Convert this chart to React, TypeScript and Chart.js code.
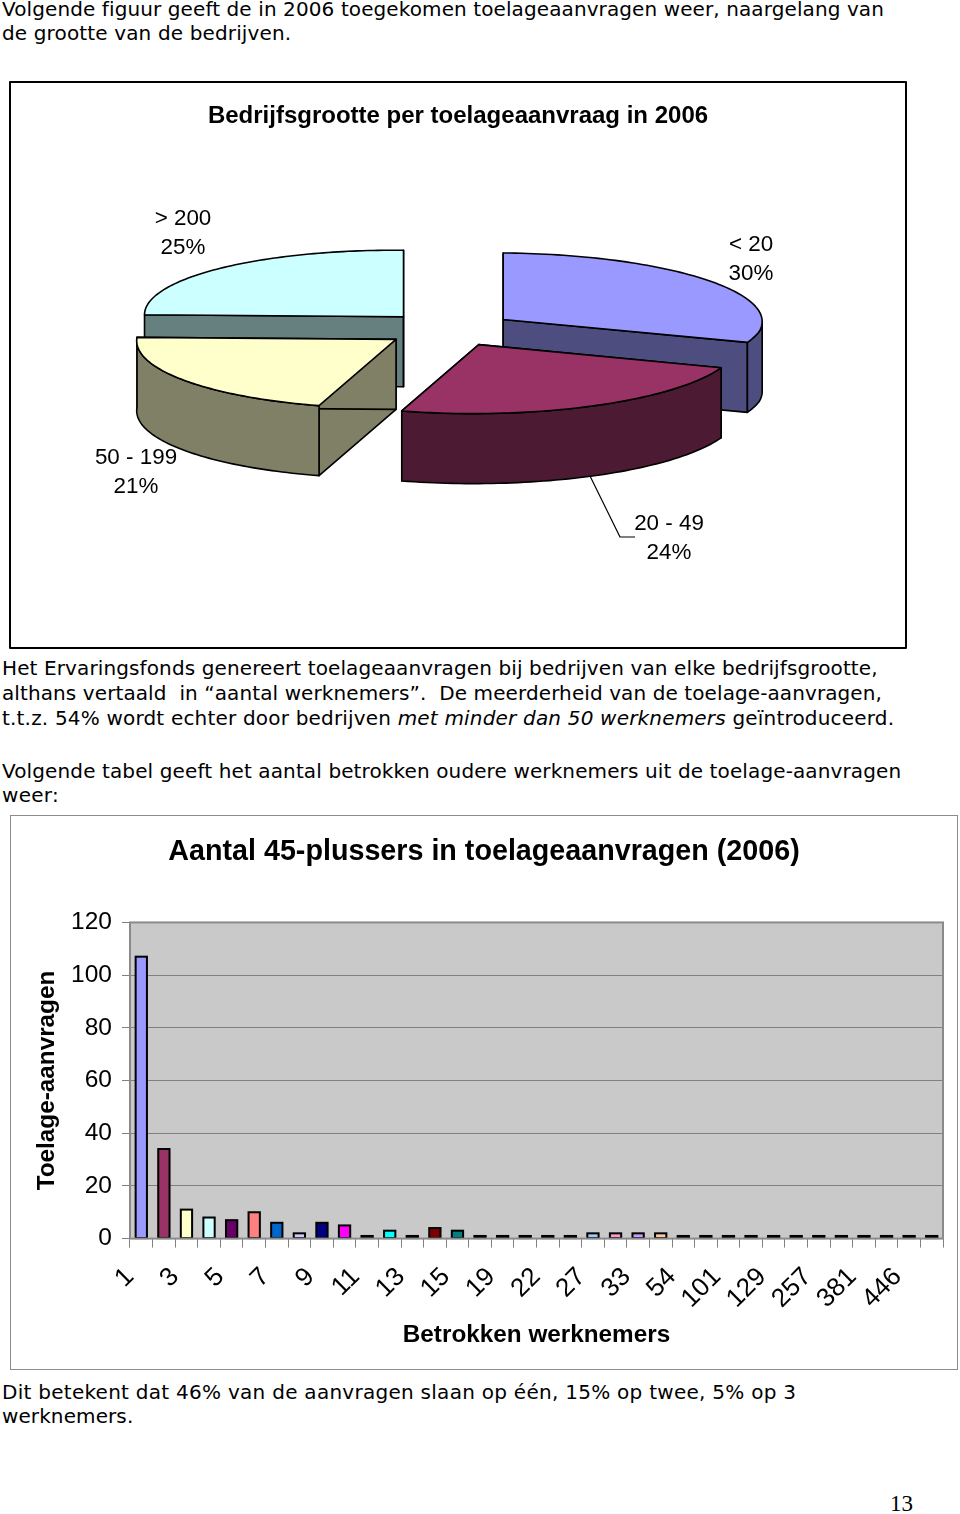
import React, { useEffect, useRef } from "react";
import { Chart, registerables } from "chart.js";

Chart.register(...registerables);

// ---- pie data ----
const pieLabels = ["< 20", "20 - 49", "50 - 199", "> 200"];
const pieValues = [30, 24, 21, 25];
const pieColors = ["#9999FF", "#993366", "#FFFFCC", "#CCFFFF"];
const pieWallColors = ["#4D4D80", "#4D1A33", "#808066", "#668080"];
const pieTitle = "Bedrijfsgrootte per toelageaanvraag in 2006";

// ---- bar data ----
const barCategories = [
  "1", "2", "3", "4", "5", "6", "7", "8", "9", "10", "11", "12", "13", "14", "15", "17", "19", "20",
  "22", "25", "27", "30", "33", "40", "54", "70", "101", "120", "129", "180", "257", "300", "381", "400", "446", "500",
];
const barValues = [
  107, 34, 11, 8, 7, 10, 6, 2, 6, 5, 1, 3, 1, 4, 3, 1, 1, 1,
  1, 1, 2, 2, 2, 2, 1, 1, 1, 1, 1, 1, 1, 1, 1, 1, 1, 1,
];
const barColors = [
  "#9999FF", "#993366", "#FFFFCC", "#CCFFFF", "#660066", "#FF8080", "#0066CC", "#CCCCFF", "#000080", "#FF00FF",
  "#808040", "#00FFFF", "#400040", "#800000", "#008080", "#000060", "#205060", "#507070", "#609060", "#909060",
  "#99CCFF", "#FF99CC", "#CC99FF", "#FFCC99", "#203080", "#306070", "#506020", "#706020", "#704020", "#703010",
  "#303050", "#505050", "#102030", "#205030", "#001800", "#181800",
];
const barTitle = "Aantal 45-plussers in toelageaanvragen (2006)";
const barYTitle = "Toelage-aanvragen";
const barXTitle = "Betrokken werknemers";

const SANS = "'Liberation Sans', Arial, sans-serif";
const TEXT = "'DejaVu Sans', Verdana, sans-serif";

const OX = 9;
const OY = 81;

function project(u: number, v: number) {
  return {
    x: 450 - OX + 259 * u - 13 * Math.max(v, 0),
    y: 329 - OY + (v < 0 ? 66.5 : 69) * v + 2 * u,
  };
}

const pie3d = {
  id: "pie3d",
  beforeDatasetsDraw(chart: any) {
    const ctx = chart.ctx;
    const arcs = chart.getDatasetMeta(0).data;
    const DEPTH = 70;
    ctx.save();
    ctx.lineWidth = 1.6;
    ctx.strokeStyle = "#000";
    ctx.lineJoin = "round";
    const order = [3, 0, 1, 2];
    for (const i of order) {
      const a = arcs[i];
      const R = a.outerRadius;
      const off = a.options.offset / R;
      const mid = (a.startAngle + a.endAngle) / 2;
      const au = Math.cos(mid) * off;
      const av = Math.sin(mid) * off;
      const pt = (ang: number) => project(au + Math.cos(ang), av + Math.sin(ang));
      const apex = project(au, av);
      const poly = (pts: { x: number; y: number }[], fill: string) => {
        ctx.beginPath();
        pts.forEach((p, k) => (k ? ctx.lineTo(p.x, p.y) : ctx.moveTo(p.x, p.y)));
        ctx.closePath();
        ctx.fillStyle = fill;
        ctx.fill();
        ctx.stroke();
      };
      const down = (p: { x: number; y: number }) => ({ x: p.x, y: p.y + DEPTH });
      for (const ang of [a.startAngle, a.endAngle]) {
        const p = pt(ang);
        poly([apex, p, down(p), down(apex)], pieWallColors[i]);
      }
      const s = Math.max(a.startAngle, 0);
      const e = Math.min(a.endAngle, Math.PI);
      if (e > s) {
        const top: { x: number; y: number }[] = [];
        for (let k = 0; k <= 60; k++) top.push(pt(s + ((e - s) * k) / 60));
        poly([...top, ...top.slice().reverse().map(down)], pieWallColors[i]);
      }
      const face = [apex];
      for (let k = 0; k <= 80; k++) face.push(pt(a.startAngle + ((a.endAngle - a.startAngle) * k) / 80));
      poly(face, pieColors[i]);
    }
    ctx.lineWidth = 1.2;
    ctx.beginPath();
    ctx.moveTo(590 - OX, 476 - OY);
    ctx.lineTo(620 - OX, 537 - OY);
    ctx.lineTo(635 - OX, 537 - OY);
    ctx.stroke();
    const labelPos = [
      [751, 245],
      [669, 524],
      [136, 458],
      [183, 219],
    ];
    ctx.fillStyle = "#000";
    ctx.font = `22.4px ${SANS}`;
    ctx.textAlign = "center";
    ctx.textBaseline = "middle";
    pieLabels.forEach((l, i) => {
      ctx.fillText(l, labelPos[i][0] - OX, labelPos[i][1] - OY);
      ctx.fillText(`${pieValues[i]}%`, labelPos[i][0] - OX, labelPos[i][1] - OY + 28.5);
    });
    ctx.lineWidth = 2;
    ctx.strokeRect(1, 1, chart.width - 2, chart.height - 2);
    ctx.restore();
    return false;
  },
};

const plotBg = {
  id: "plotBg",
  beforeDraw(chart: any) {
    const { ctx, chartArea: c } = chart;
    ctx.save();
    ctx.fillStyle = "#C9C9C9";
    ctx.fillRect(c.left, c.top, c.right - c.left, c.bottom - c.top);
    ctx.strokeStyle = "#8C8C8C";
    ctx.lineWidth = 1;
    ctx.strokeRect(0.5, 0.5, chart.width - 1, chart.height - 1);
    ctx.restore();
  },
  afterDatasetsDraw(chart: any) {
    const { ctx, chartArea: c } = chart;
    ctx.save();
    // centred outline of every bar, on the geometry of the library's bar elements
    ctx.strokeStyle = "#000";
    ctx.lineWidth = 2;
    for (const b of chart.getDatasetMeta(0).data) {
      ctx.strokeRect(b.x - b.width / 2, b.y, b.width, b.base - b.y);
    }
    ctx.strokeStyle = "#8A8A8A";
    ctx.lineWidth = 2;
    ctx.strokeRect(c.left, c.top, c.right - c.left, c.bottom - c.top);
    ctx.restore();
  },
};

function PieChart() {
  const ref = useRef<HTMLCanvasElement>(null);
  useEffect(() => {
    const chart = new Chart(ref.current!, {
      type: "pie",
      data: {
        labels: pieLabels,
        datasets: [{ data: pieValues, backgroundColor: pieColors, offset: 57, borderColor: "#000" }],
      },
      options: {
        animation: false,
        responsive: false,
        devicePixelRatio: 1,
        layout: { padding: 0 },
        plugins: {
          legend: { display: false },
          tooltip: { enabled: false },
          title: {
            display: true,
            text: pieTitle,
            color: "#000",
            font: { family: SANS, size: 24, weight: "bold" },
            padding: { top: 21, bottom: 10 },
          },
        },
      },
      plugins: [pie3d],
    } as any);
    return () => chart.destroy();
  }, []);
  return <canvas ref={ref} width={898} height={568} style={{ position: "absolute", left: OX, top: OY }} />;
}

function BarChart() {
  const ref = useRef<HTMLCanvasElement>(null);
  useEffect(() => {
    const chart = new Chart(ref.current!, {
      type: "bar",
      data: {
        labels: barCategories,
        datasets: [
          {
            data: barValues,
            backgroundColor: barColors,
            borderWidth: 0,
            categoryPercentage: 1,
            barPercentage: 0.5,
          },
        ],
      },
      options: {
        animation: false,
        responsive: false,
        devicePixelRatio: 1,
        layout: { padding: 0 },
        plugins: {
          legend: { display: false },
          tooltip: { enabled: false },
          title: {
            display: true,
            text: barTitle,
            color: "#000",
            font: { family: SANS, size: 28.7, weight: "bold" },
            padding: { top: 20, bottom: 53 },
          },
        },
        scales: {
          x: {
            offset: true,
            afterFit: (s: any) => {
              s.height = 131.4;
              s.paddingRight = 15;
              s.paddingLeft = 0;
            },
            grid: { offset: true, drawOnChartArea: false, tickLength: 9, color: "#808080" },
            border: { color: "#808080" },
            ticks: {
              autoSkip: false,
              minRotation: 45,
              maxRotation: 45,
              color: "#000",
              padding: 14,
              labelOffset: -11.5,
              font: { family: SANS, size: 26 },
              callback(this: any, _v: any, i: number) {
                return i % 2 === 0 ? barCategories[i] : "";
              },
            },
            title: {
              display: true,
              text: barXTitle,
              color: "#000",
              font: { family: SANS, size: 24.3, weight: "bold" },
              padding: { top: 0, bottom: 20 },
            },
          },
          y: {
            min: 0,
            max: 120,
            afterFit: (s: any) => { s.width = 120; },
            grid: { color: "#808080", tickLength: 8, lineWidth: 1 },
            border: { color: "#808080" },
            ticks: {
              stepSize: 20,
              color: "#000",
              padding: 10,
              font: { family: SANS, size: 24.5 },
            },
            title: {
              display: true,
              text: barYTitle,
              color: "#000",
              font: { family: SANS, size: 24.3, weight: "bold" },
              padding: { top: 23, bottom: 0 },
            },
          },
        },
      },
      plugins: [plotBg],
    } as any);
    return () => chart.destroy();
  }, []);
  return <canvas ref={ref} width={948} height={555} style={{ position: "absolute", left: 10, top: 815 }} />;
}

const lineStyle = (top: number, spacing: number): React.CSSProperties => ({
  position: "absolute",
  left: 2,
  top: top - 12,
  lineHeight: "24px",
  whiteSpace: "pre",
  fontFamily: TEXT,
  fontSize: 20,
  letterSpacing: spacing,
  color: "#000",
});

export default function App() {
  return (
    <div style={{ position: "absolute", left: 0, top: 0, width: 960, height: 1514, overflow: "hidden", background: "#fff" }}>
      <div style={lineStyle(9, 0.1)}>Volgende figuur geeft de in 2006 toegekomen toelageaanvragen weer, naargelang van</div>
      <div style={lineStyle(33, 0.14)}>de grootte van de bedrijven.</div>
      <PieChart />
      <div style={lineStyle(668, 0.118)}>Het Ervaringsfonds genereert toelageaanvragen bij bedrijven van elke bedrijfsgrootte,</div>
      <div style={lineStyle(693, 0.095)}>althans vertaald  in “aantal werknemers”.  De meerderheid van de toelage-aanvragen,</div>
      <div style={lineStyle(718, 0.186)}>
        t.t.z. 54% wordt echter door bedrijven <i>met minder dan 50 werknemers</i> geïntroduceerd.
      </div>
      <div style={lineStyle(771, 0.12)}>Volgende tabel geeft het aantal betrokken oudere werknemers uit de toelage-aanvragen</div>
      <div style={lineStyle(795, 0.3)}>weer:</div>
      <BarChart />
      <div style={lineStyle(1392, 0.27)}>Dit betekent dat 46% van de aanvragen slaan op één, 15% op twee, 5% op 3</div>
      <div style={lineStyle(1416, 0.1)}>werknemers.</div>
      <div
        style={{
          position: "absolute",
          left: 890,
          top: 1491,
          fontFamily: "'Liberation Serif', serif",
          fontSize: 23,
          lineHeight: "26px",
          color: "#000",
        }}
      >
        13
      </div>
    </div>
  );
}
